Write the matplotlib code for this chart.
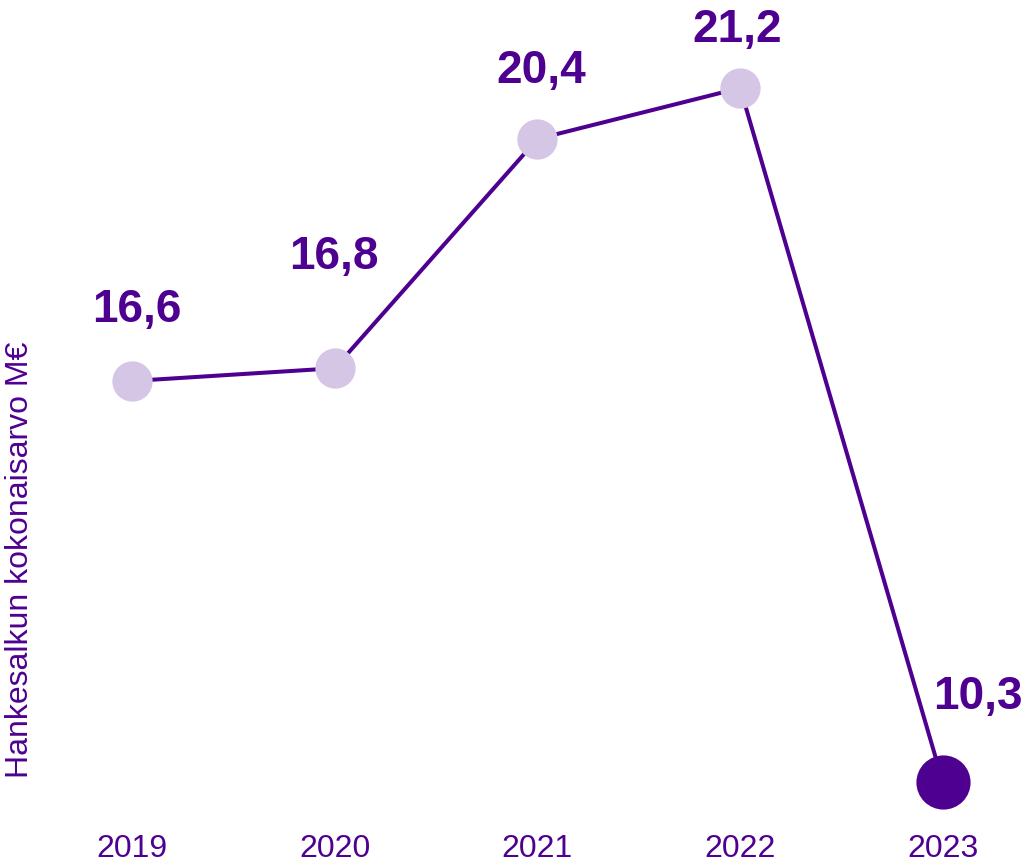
import matplotlib
matplotlib.use("Agg")
import matplotlib.pyplot as plt

years = ["2019", "2020", "2021", "2022", "2023"]
values = [16.6, 16.8, 20.4, 21.2, 10.3]
value_labels = ["16,6", "16,8", "20,4", "21,2", "10,3"]
ylabel = "Hankesalkun kokonaisarvo M€"

DARK = "#4E0090"
LIGHT = "#D5C6E6"
plt.rcParams['font.family'] = ['Liberation Sans', 'DejaVu Sans']

fig = plt.figure(figsize=(10.24, 8.68), dpi=100)
ax = fig.add_axes([0.0695, 0.04735, 0.9107, 0.9467])
x = list(range(len(values)))
ax.plot(x, values, color=DARK, lw=2.9, zorder=1)
ax.scatter(x[:-1], values[:-1], s=29**2, color=LIGHT, zorder=2, linewidths=0)
ax.scatter(x[-1:], values[-1:], s=39**2, color=DARK, zorder=3, linewidths=0)

# label offsets in pixels (dx, dy)
offsets = [(5, 71), (-1, 111), (4, 68), (-3, 58), (35, 85)]
for xi, v, lab, (dx, dy) in zip(x, values, value_labels, offsets):
    ax.annotate(lab, (xi, v), xytext=(dx * 0.72, dy * 0.72), textcoords="offset points",
                ha="center", va="center", fontsize=33, fontweight="bold", color=DARK)

ax.set_xlim(-0.3, 4.3)
ax.set_ylim(9.6, 22.5)
ax.set_xticks(x)
ax.set_xticklabels(years)
ax.tick_params(axis="x", length=0, pad=5, labelsize=23, labelcolor=DARK)
ax.set_yticks([])
for s in ax.spines.values():
    s.set_visible(False)

fig.text(20 / 1024, 1 - 560 / 868, ylabel, rotation=90, ha="center", va="center",
         fontsize=23, color=DARK)

fig.savefig("out.png", dpi=100)
